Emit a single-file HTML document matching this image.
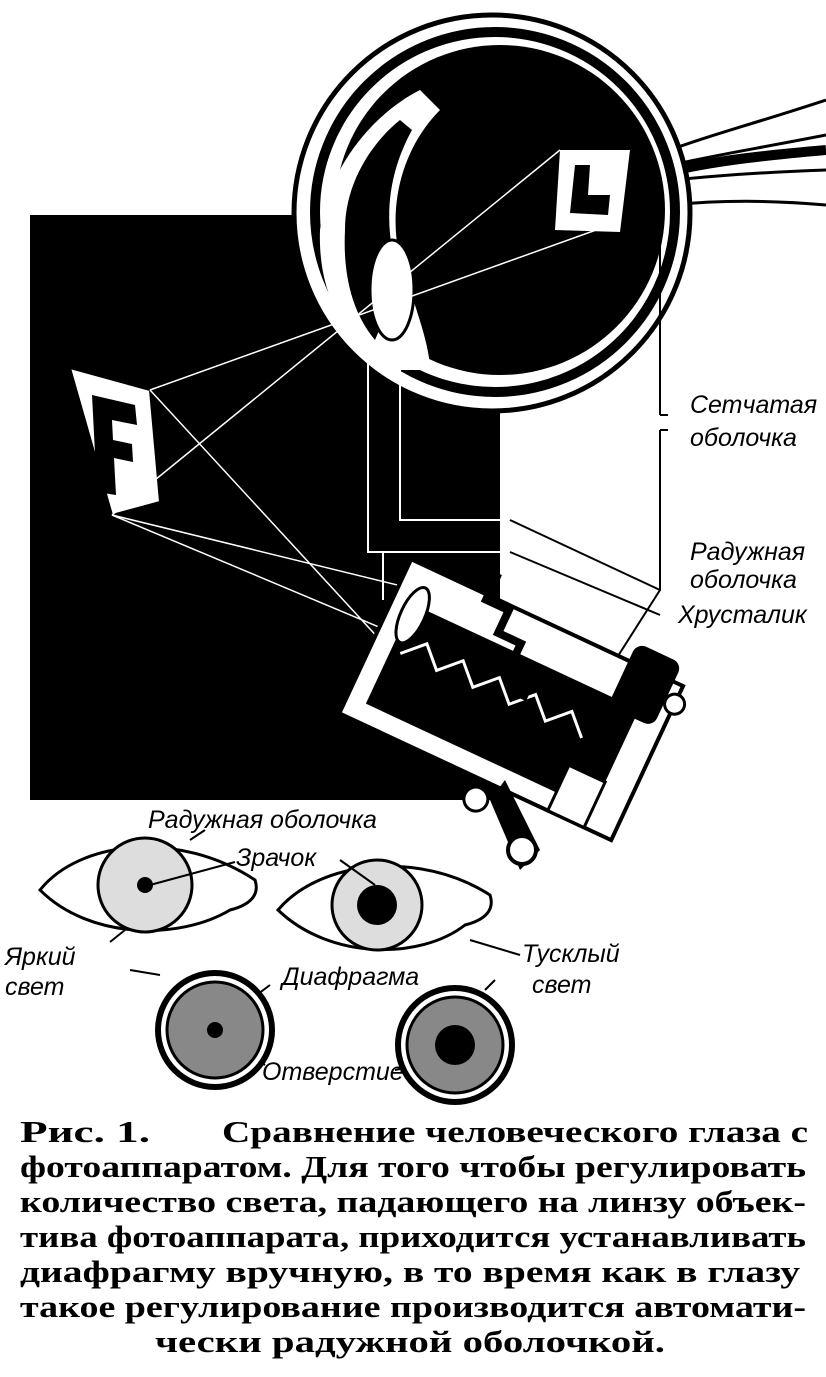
<!DOCTYPE html>
<html><head><meta charset="utf-8"><style>
html,body{margin:0;padding:0;background:#fff;}
svg{display:block}
.lab{font-family:"Liberation Sans","DejaVu Sans",sans-serif;font-style:italic;font-size:25px;fill:#000}
.cap{font-family:"Liberation Serif","DejaVu Serif",serif;font-size:31px;font-weight:bold;fill:#000}
</style></head><body>
<svg width="826" height="1377" viewBox="0 0 826 1377" xmlns="http://www.w3.org/2000/svg">
<path d="M30 215 H500 V800 H30 Z" fill="#000"/>
<g stroke="#000" fill="none">
<path d="M670 150 C710 135 750 125 826 100" stroke-width="3"/>
<path d="M672 165 C715 155 760 148 826 135" stroke-width="3"/>
<path d="M675 180 C720 175 770 172 826 170" stroke-width="3"/>
<path d="M672 205 C720 200 770 200 826 205" stroke-width="3"/>
<path d="M676 170 C720 160 770 155 826 150" stroke-width="10"/>
</g>
<circle cx="492" cy="213" r="198" fill="#fff" stroke="#000" stroke-width="5"/>
<circle cx="495" cy="212" r="180" fill="#fff" stroke="#000" stroke-width="10"/>
<circle cx="500" cy="210" r="165" fill="#000"/>
<path d="M320 230 C330 160 380 110 420 90 L440 110 C400 150 380 220 410 290 C420 320 430 350 430 370 L380 370 C340 330 318 290 320 230 Z" fill="#fff"/>
<path d="M345 230 C345 180 375 140 400 120 L412 130 C390 170 380 220 400 280 L375 340 C350 310 343 270 345 230 Z" fill="#000"/>
<ellipse cx="392" cy="290" rx="22" ry="50" fill="#fff" stroke="#000" stroke-width="3"/>
<path d="M560 150 L630 150 L620 232 L555 230 Z" fill="#fff"/>
<path d="M575 165 L590 165 L588 195 L610 195 L608 215 L570 213 Z" fill="#000"/>
<path d="M70 368 L150 390 L160 502 L112 515 Z" fill="#fff" stroke="#000" stroke-width="2"/>
<path d="M92 395 L135 405 L137 425 L112 420 L113 440 L132 444 L133 462 L114 458 L116 495 L97 492 Z" fill="#000"/>
<g stroke="#fff" stroke-width="1.5" fill="none">
<line x1="150" y1="390" x2="610" y2="225"/>
<line x1="112" y1="515" x2="560" y2="150"/>
<line x1="150" y1="390" x2="440" y2="705"/>
<line x1="112" y1="515" x2="540" y2="620"/>
<line x1="112" y1="515" x2="410" y2="640"/>
</g>
<g stroke="#fff" stroke-width="2" fill="none">
<path d="M400 360 V520 H510"/>
<path d="M368 360 V552 H510"/>
<path d="M383 552 V600"/>
</g>
<g stroke="#000" stroke-width="2" fill="none">
<path d="M510 520 L660 590"/>
<path d="M510 552 L660 615"/>
<path d="M660 240 V415 M660 430 V590 L590 700"/>
<path d="M660 415 H668 M660 430 H668"/>
</g>
<g transform="rotate(25 500 700)">
<rect x="360" y="610" width="300" height="170" fill="#fff" stroke="#000" stroke-width="4"/>
<rect x="380" y="650" width="250" height="110" fill="#000"/>
<path d="M390 700 l20 -20 l20 20 l20 -20 l20 20 l20 -20 l20 20 l20 -20 l20 20 l20 -20 l20 20" stroke="#fff" stroke-width="3" fill="none"/>
<rect x="600" y="590" width="50" height="70" rx="10" fill="#000"/>
<rect x="590" y="730" width="40" height="50" fill="#fff" stroke="#000" stroke-width="3"/>
<circle cx="660" cy="630" r="10" fill="#fff" stroke="#000" stroke-width="3"/>
<circle cx="520" cy="800" r="12" fill="#fff" stroke="#000" stroke-width="3"/>
<ellipse cx="385" cy="660" rx="12" ry="30" fill="#fff" stroke="#000" stroke-width="3"/>
<path d="M420 590 l25 0 l0 25 l25 0 l0 25 l25 0 l0 25 l25 0 l0 25" stroke="#000" stroke-width="8" fill="none"/>
</g>
<path d="M505 780 L540 850 L520 870 L490 800 Z" fill="#000"/>
<circle cx="522" cy="850" r="14" fill="#fff" stroke="#000" stroke-width="4"/>
<text class="lab" x="690" y="413">Сетчатая</text>
<text class="lab" x="690" y="446">оболочка</text>
<text class="lab" x="690" y="560">Радужная</text>
<text class="lab" x="690" y="588">оболочка</text>
<text class="lab" x="678" y="623">Хрусталик</text>
<text class="lab" x="148" y="828">Радужная оболочка</text>
<text class="lab" x="236" y="866">Зрачок</text>
<text class="lab" x="5" y="965">Яркий</text>
<text class="lab" x="5" y="995">свет</text>
<text class="lab" x="522" y="962">Тусклый</text>
<text class="lab" x="532" y="993">свет</text>
<text class="lab" x="282" y="985">Диафрагма</text>
<text class="lab" x="262" y="1080">Отверстие</text>
<path d="M40 890 C80 840 180 830 255 880 C260 895 250 905 230 910 C180 940 90 940 40 890 Z" fill="#fff" stroke="#000" stroke-width="3"/>
<circle cx="145" cy="885" r="47" fill="#ddd" stroke="#000" stroke-width="3"/>
<circle cx="145" cy="885" r="8" fill="#000"/>
<path d="M278 910 C320 860 420 850 490 895 C495 910 485 920 465 925 C420 960 330 960 278 910 Z" fill="#fff" stroke="#000" stroke-width="3"/>
<circle cx="377" cy="905" r="45" fill="#ddd" stroke="#000" stroke-width="3"/>
<circle cx="377" cy="905" r="20" fill="#000"/>
<g stroke="#000" stroke-width="2">
<line x1="190" y1="840" x2="205" y2="830"/><line x1="150" y1="885" x2="235" y2="862"/>
<line x1="340" y1="860" x2="375" y2="885"/><line x1="110" y1="942" x2="125" y2="930"/>
<line x1="130" y1="970" x2="160" y2="975"/><line x1="470" y1="940" x2="520" y2="955"/>
<line x1="495" y1="980" x2="485" y2="990"/><line x1="270" y1="985" x2="250" y2="1000"/>
<line x1="265" y1="1065" x2="240" y2="1050"/><line x1="395" y1="1070" x2="420" y2="1065"/>
</g>
<circle cx="215" cy="1030" r="57" fill="#fff" stroke="#000" stroke-width="6"/>
<circle cx="215" cy="1030" r="48" fill="#888" stroke="#000" stroke-width="3"/>
<circle cx="215" cy="1030" r="8" fill="#000"/>
<circle cx="455" cy="1045" r="57" fill="#fff" stroke="#000" stroke-width="6"/>
<circle cx="455" cy="1045" r="48" fill="#888" stroke="#000" stroke-width="3"/>
<circle cx="455" cy="1045" r="20" fill="#000"/>
<text class="cap" x="20" y="1142" textLength="130" lengthAdjust="spacingAndGlyphs">Рис. 1.</text>
<text class="cap" x="222" y="1142" textLength="586" lengthAdjust="spacingAndGlyphs">Сравнение человеческого глаза с</text>
<text class="cap" x="20" y="1177" textLength="786" lengthAdjust="spacingAndGlyphs">фотоаппаратом. Для того чтобы регулировать</text>
<text class="cap" x="20" y="1212" textLength="786" lengthAdjust="spacingAndGlyphs">количество света, падающего на линзу объек-</text>
<text class="cap" x="20" y="1247" textLength="786" lengthAdjust="spacingAndGlyphs">тива фотоаппарата, приходится устанавливать</text>
<text class="cap" x="20" y="1282" textLength="780" lengthAdjust="spacingAndGlyphs">диафрагму вручную, в то время как в глазу</text>
<text class="cap" x="20" y="1317" textLength="786" lengthAdjust="spacingAndGlyphs">такое регулирование производится автомати-</text>
<text class="cap" x="155" y="1352" textLength="510" lengthAdjust="spacingAndGlyphs">чески радужной оболочкой.</text>
</svg>
</body></html>
